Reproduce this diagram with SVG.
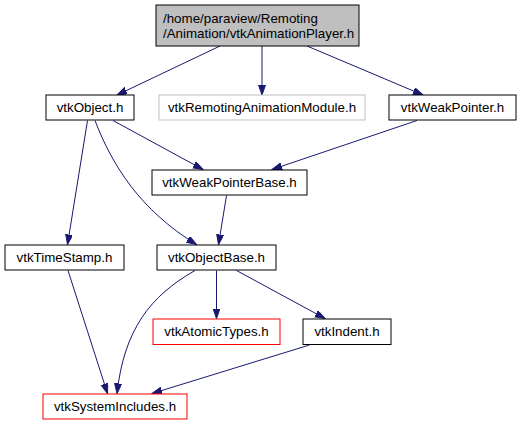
<svg xmlns="http://www.w3.org/2000/svg" width="521" height="425" viewBox="0 0 521 425">
<defs>
<marker id="arr" markerUnits="userSpaceOnUse" markerWidth="11" markerHeight="8" refX="10" refY="3.5" orient="auto">
<path d="M0,0 L10,3.5 L0,7 z" fill="#191970" stroke="#191970" stroke-width="1"/>
</marker>
</defs>
<style>
rect{stroke-width:1}
.n rect{fill:#fff;stroke:#000}
.top rect{fill:#bfbfbf;stroke:#000}
.g rect{fill:#fff;stroke:#bfbfbf}
.r rect{fill:#fff;stroke:#ff0000}
text{font-family:"Liberation Sans",Arial,Helvetica,sans-serif;font-size:13.33px;fill:#000;text-anchor:middle}
.e path{fill:none;stroke:#191970;stroke-width:1;marker-end:url(#arr)}
</style>
<rect width="521" height="425" fill="#fff"/>
<g id="edges" class="e">
<path d="M220,46 L117,95"/>
<path d="M262,46 L262,95"/>
<path d="M307,46 L423,95"/>
<path d="M113,120.5 L203,169.5"/>
<path d="M417,120.5 L272,169.5"/>
<path d="M87.5,120.5 L67.5,244.5"/>
<path d="M95,120.5 C112,165 140,210 196.5,244.5"/>
<path d="M226.5,195.5 L218.5,244.5"/>
<path d="M68,270.5 L107.5,393.5"/>
<path d="M195,270.5 C150,296 124,330 117,393.5"/>
<path d="M216.5,270.5 L216.5,318.5"/>
<path d="M236.5,270.5 L325,318.5"/>
<path d="M309.5,345 L152,393.5"/>
</g>
<g id="n_top" class="top">
<rect x="156" y="5" width="203" height="41"/>
<text x="163" y="22.5" style="text-anchor:start">/home/paraview/Remoting</text>
<text x="163" y="37.5" style="text-anchor:start">/Animation/vtkAnimationPlayer.h</text>
</g>
<g id="n_vtkObject" class="n">
<rect x="46" y="95" width="88" height="25"/>
<text x="90" y="112.2">vtkObject.h</text>
</g>
<g id="n_module" class="g">
<rect x="159" y="95" width="206" height="25"/>
<text x="262" y="112.2">vtkRemotingAnimationModule.h</text>
</g>
<g id="n_weakpointer" class="n">
<rect x="389" y="95" width="127" height="25"/>
<text x="452.5" y="112.2">vtkWeakPointer.h</text>
</g>
<g id="n_weakpointerbase" class="n">
<rect x="152" y="170" width="155" height="25"/>
<text x="229.5" y="187.2">vtkWeakPointerBase.h</text>
</g>
<g id="n_timestamp" class="n">
<rect x="5" y="245" width="119" height="25"/>
<text x="64.5" y="262.2">vtkTimeStamp.h</text>
</g>
<g id="n_objectbase" class="n">
<rect x="157" y="245" width="119" height="25"/>
<text x="216.5" y="262.2">vtkObjectBase.h</text>
</g>
<g id="n_atomictypes" class="r">
<rect x="153" y="319" width="127" height="25.5"/>
<text x="216.5" y="336.4">vtkAtomicTypes.h</text>
</g>
<g id="n_indent" class="n">
<rect x="303" y="319" width="88" height="25.5"/>
<text x="347" y="336.4">vtkIndent.h</text>
</g>
<g id="n_systemincludes" class="r">
<rect x="43" y="394" width="144" height="25"/>
<text x="115" y="411.2">vtkSystemIncludes.h</text>
</g>
</svg>
